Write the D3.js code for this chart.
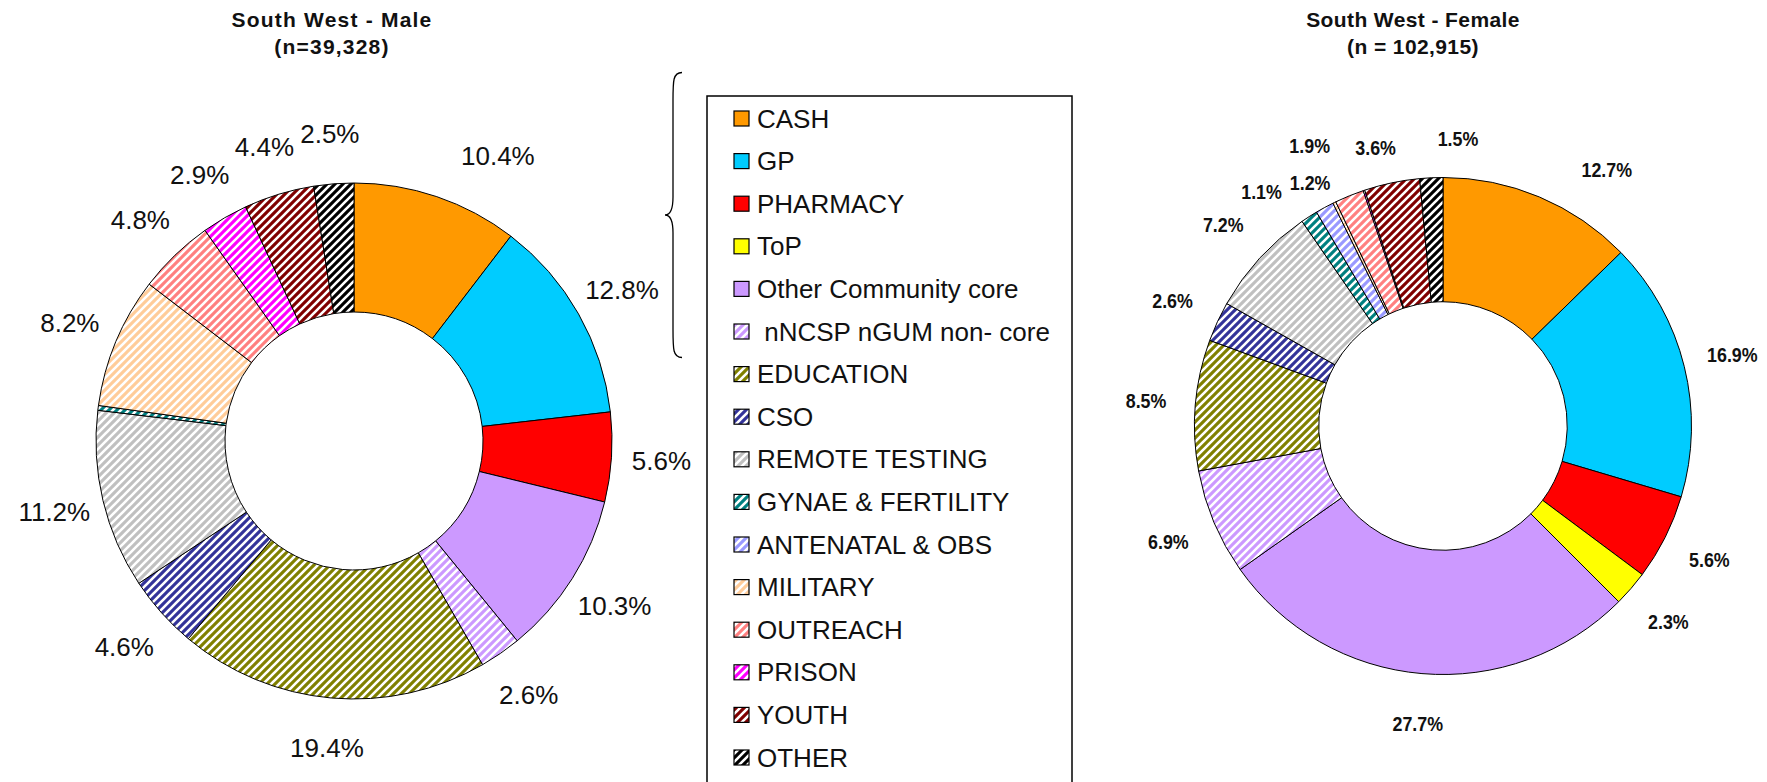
<!DOCTYPE html>
<html>
<head>
<meta charset="utf-8">
<script src="https://cdn.jsdelivr.net/npm/d3@7"></script>
<style>
  body { margin: 0; background: #fff; }
  svg { display: block; }
</style>
</head>
<body>
<div id="chart"></div>
<script>
// Data
const categories = ["CASH", "GP", "PHARMACY", "ToP", "Other Community core", " nNCSP nGUM non- core",
    "EDUCATION", "CSO", "REMOTE TESTING", "GYNAE & FERTILITY", "ANTENATAL & OBS", "MILITARY",
    "OUTREACH", "PRISON", "YOUTH", "OTHER"];
const maleValues   = [10.4, 12.8, 5.6, 0, 10.3, 2.6, 19.4, 4.6, 11.2, 0.3, 0, 8.2, 4.8, 2.9, 4.4, 2.5];
const femaleValues = [12.7, 16.9, 5.6, 2.3, 27.7, 6.9, 8.5, 2.6, 7.2, 1.1, 1.2, 0.2, 1.9, 0.1, 3.6, 1.5];
const maleTitle = ["South West - Male", "(n=39,328)"];
const femaleTitle = ["South West - Female", "(n = 102,915)"];

// Styles
const colors = ["#ff9900", "#00ccff", "#ff0000", "#ffff00", "#cc99ff", "#cc99ff", "#808000", "#333399",
    "#c0c0c0", "#008080", "#9999ff", "#ffcc99", "#ff8080", "#ff00ff", "#800000", "#000000"];
const hatched = categories.map((c, i) => i >= 5);

// Label nudges (pixels) where the original labels were moved off the radial spot
const labelNudge = {
    male: { "CASH": [45, 6] },
    female: { "CASH": [48, 18], "GYNAE & FERTILITY": [-21, 17], "ANTENATAL & OBS": [9, 18],
              "OUTREACH": [-21, -5], "OTHER": [29, 10], "YOUTH": [-6, 13] }
};

const W = 1767, H = 782;
const svg = d3.select("#chart").append("svg")
    .attr("width", W)
    .attr("height", H);

svg.append("rect").attr("width", W).attr("height", H).attr("fill", "#fff");

// hatch patterns
const defs = svg.append("defs");
categories.forEach((c, i) => {
    if (!hatched[i]) return;
    const p = defs.append("pattern")
        .attr("id", "hatch" + i)
        .attr("patternUnits", "userSpaceOnUse")
        .attr("width", 8)
        .attr("height", 8);
    p.append("rect").attr("width", 8).attr("height", 8).attr("fill", colors[i]);
    p.append("path")
        .attr("d", "M-2,2 L2,-2 M0,8 L8,0 M6,10 L10,6")
        .attr("stroke", "#fff")
        .attr("stroke-width", 2.6);
});
const fillFor = i => hatched[i] ? `url(#hatch${i})` : colors[i];

function drawDonut(values, opts) {
    const data = categories.map((c, i) => ({ category: c, index: i, value: values[i] }));
    const pie = d3.pie().sort(null).value(d => d.value);
    const arcs = pie(data).filter(a => a.data.value > 0);

    const arc = d3.arc().innerRadius(opts.r * 0.5).outerRadius(opts.r);
    const labelArc = d3.arc().innerRadius(opts.labelR).outerRadius(opts.labelR);

    const g = svg.append("g").attr("transform", `translate(${opts.cx},${opts.cy})`);

    g.selectAll("path.slice")
        .data(arcs)
        .join("path")
        .attr("class", "slice")
        .attr("d", arc)
        .attr("fill", d => fillFor(d.data.index))
        .attr("stroke", "#000")
        .attr("stroke-width", 1);

    g.selectAll("text.lbl")
        .data(arcs.filter(a => a.data.value >= 1))
        .join("text")
        .attr("class", "lbl")
        .attr("transform", d => {
            const [x, y] = labelArc.centroid(d);
            const n = opts.nudge[d.data.category.trim()] || [0, 0];
            return `translate(${x + n[0]},${y + n[1]}) scale(${opts.labelScaleX},1)`;
        })
        .attr("text-anchor", "middle")
        .attr("dy", "0.36em")
        .style("font-family", "'Liberation Sans', Arial, sans-serif")
        .style("font-size", opts.labelSize + "px")
        .style("font-weight", opts.labelWeight)
        .style("fill", "#111")
        .text(d => d.data.value.toFixed(1) + "%");

    const t = svg.append("text")
        .attr("x", opts.titleX)
        .attr("y", 27)
        .attr("text-anchor", "middle")
        .style("font-family", "'Liberation Sans', Arial, sans-serif")
        .style("font-size", "21px")
        .style("font-weight", "bold")
        .style("letter-spacing", opts.titleSpacing + "px")
        .style("fill", "#111");
    t.append("tspan").attr("x", opts.titleX).text(opts.title[0]);
    t.append("tspan").attr("x", opts.titleX).attr("dy", 27).text(opts.title[1]);
}

drawDonut(maleValues, {
    cx: 354, cy: 441, r: 258, labelR: 308,
    labelSize: 26, labelWeight: "normal", labelScaleX: 1,
    nudge: labelNudge.male, title: maleTitle, titleX: 332, titleSpacing: 1.2
});

drawDonut(femaleValues, {
    cx: 1443, cy: 426, r: 248.5, labelR: 298,
    labelSize: 21, labelWeight: "bold", labelScaleX: 0.85,
    nudge: labelNudge.female, title: femaleTitle, titleX: 1413, titleSpacing: 0.4
});

// Legend
const legendY = d3.scalePoint().domain(categories).range([118.5, 757.5]);
const legend = svg.append("g");

legend.append("rect")
    .attr("x", 707)
    .attr("y", 96)
    .attr("width", 365)
    .attr("height", 720)
    .attr("fill", "#fff")
    .attr("stroke", "#000")
    .attr("stroke-width", 1.5);

legend.selectAll("rect.sw")
    .data(categories)
    .join("rect")
    .attr("class", "sw")
    .attr("x", 734)
    .attr("y", d => legendY(d) - 7.5)
    .attr("width", 15)
    .attr("height", 15)
    .attr("fill", (d, i) => fillFor(i))
    .attr("stroke", "#000")
    .attr("stroke-width", 1.2);

legend.selectAll("text.lg")
    .data(categories)
    .join("text")
    .attr("class", "lg")
    .attr("x", 757)
    .attr("y", d => legendY(d) + 9)
    .style("font-family", "'Liberation Sans', Arial, sans-serif")
    .style("font-size", "26px")
    .style("white-space", "pre")
    .style("fill", "#111")
    .text(d => d);

// Curly brace grouping the core settings (CASH .. nNCSP)
const bTop = legendY(categories[0]) - 46;
const bBot = legendY(categories[5]) + 26;
const bMid = (bTop + bBot) / 2;
const bx = 673;
svg.append("path")
    .attr("d", `M${bx + 9},${bTop} C${bx},${bTop} ${bx},${bTop + 8} ${bx},${bTop + 28}
        L${bx},${bMid - 18} C${bx},${bMid - 6} ${bx - 3},${bMid} ${bx - 8},${bMid}
        C${bx - 3},${bMid} ${bx},${bMid + 6} ${bx},${bMid + 18}
        L${bx},${bBot - 28} C${bx},${bBot - 8} ${bx},${bBot} ${bx + 9},${bBot}`)
    .attr("fill", "none")
    .attr("stroke", "#000")
    .attr("stroke-width", 1.3);
</script>
</body>
</html>
